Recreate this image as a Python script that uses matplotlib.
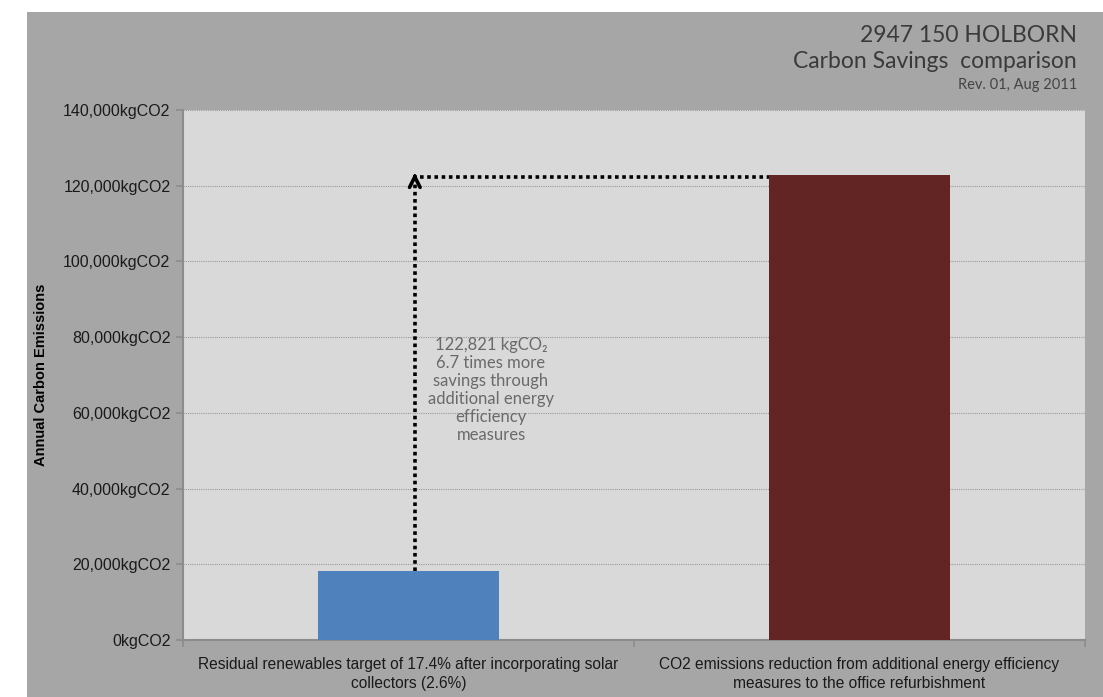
import matplotlib
matplotlib.use("Agg")
import matplotlib.pyplot as plt
from matplotlib.patches import Rectangle

categories = ["Residual renewables target of 17.4% after incorporating solar\ncollectors (2.6%)",
              "CO2 emissions reduction from additional energy efficiency\nmeasures to the office refurbishment"]
values = [18331, 122821]
bar_colors = ["#4f81bd", "#632523"]
ytick_vals = [0, 20000, 40000, 60000, 80000, 100000, 120000, 140000]
ytick_labels = [f"{v:,}kgCO2" for v in ytick_vals]
title_lines = ["2947 150 HOLBORN", "Carbon Savings  comparison", "Rev. 01, Aug 2011"]
note_text = "122,821 kgCO₂\n6.7 times more\nsavings through\nadditional energy\nefficiency\nmeasures"

W, H = 1103, 697
fig = plt.figure(figsize=(W / 100, H / 100), dpi=100, facecolor="white")
fig.patches.append(Rectangle((27 / W, 0), 1 - 27 / W, (H - 12) / H, transform=fig.transFigure,
                             facecolor="#a6a6a6", edgecolor="none", zorder=-10))

ax = fig.add_axes([183 / W, (H - 640) / H, (1085 - 183) / W, (640 - 110) / H])
ax.set_facecolor("#d9d9d9")

x = list(range(len(categories)))
ax.bar(x, values, width=0.4, color=bar_colors, zorder=3)
ax.set_xlim(-0.5, 1.5)
ax.set_ylim(0, 140000)

ax.set_yticks(ytick_vals)
ax.set_yticklabels(ytick_labels, fontsize=11.5, family="Liberation Sans", color="#1a1a1a")
ax.set_xticks(x)
ax.set_xticklabels(categories, fontsize=11.2, family="Liberation Sans", color="#1a1a1a", linespacing=1.4)
ax.set_xticks([-0.5, 0.5, 1.5], minor=True)
ax.tick_params(axis="x", which="major", length=0, pad=12)
ax.tick_params(axis="x", which="minor", length=5, color="#8c8c8c", width=1.2)
ax.tick_params(axis="y", length=5, color="#8c8c8c", width=1.2, pad=4)

ax.yaxis.grid(True, linestyle=(0, (1, 1)), color="#9a9a9a", linewidth=0.8, zorder=0)
ax.set_axisbelow(True)
for s in ["top", "right"]:
    ax.spines[s].set_visible(False)
for s in ["left", "bottom"]:
    ax.spines[s].set_color("#8c8c8c")
    ax.spines[s].set_linewidth(1.5)

ax.set_ylabel("Annual Carbon Emissions", fontsize=10.5, fontweight="bold",
              family="Liberation Sans", color="black")
ax.yaxis.set_label_coords(-0.15, 0.5)

# dotted arrow
xv = 0.014
ax.plot([xv, xv], [values[0], values[1] - 1800], color="black", lw=2.6,
        linestyle=(0, (1, 1)), dash_capstyle="butt", zorder=4)
ax.plot([xv + 0.012, 0.8], [values[1] - 600, values[1] - 600], color="black", lw=2.6,
        linestyle=(0, (1, 1)), dash_capstyle="butt", zorder=4)
ax.annotate("", xy=(xv, values[1] + 600), xytext=(xv, values[1] - 900),
            arrowprops=dict(arrowstyle="->", lw=2.6, color="black", mutation_scale=19,
                            shrinkA=0, shrinkB=0), zorder=5)

ax.text(0.183, 80000, note_text, ha="center", va="top", fontsize=12,
        family=["Lato", "DejaVu Sans"], fontweight="normal", color="#6a6a6a", linespacing=1.15,
        zorder=5)

# titles
fig.text(1077 / W, 1 - 35 / H, title_lines[0], ha="right", va="center", fontsize=16.5,
         family=["Lato", "DejaVu Sans"], fontweight="normal", color="#3a3a3a")
fig.text(1077 / W, 1 - 62 / H, title_lines[1], ha="right", va="center", fontsize=16.5,
         family=["Lato", "DejaVu Sans"], fontweight="normal", color="#3a3a3a")
fig.text(1077 / W, 1 - 85 / H, title_lines[2], ha="right", va="center", fontsize=10.5,
         family=["Lato", "DejaVu Sans"], fontweight="normal", color="#444444")

fig.savefig("out.png", dpi=100, facecolor=fig.get_facecolor())
